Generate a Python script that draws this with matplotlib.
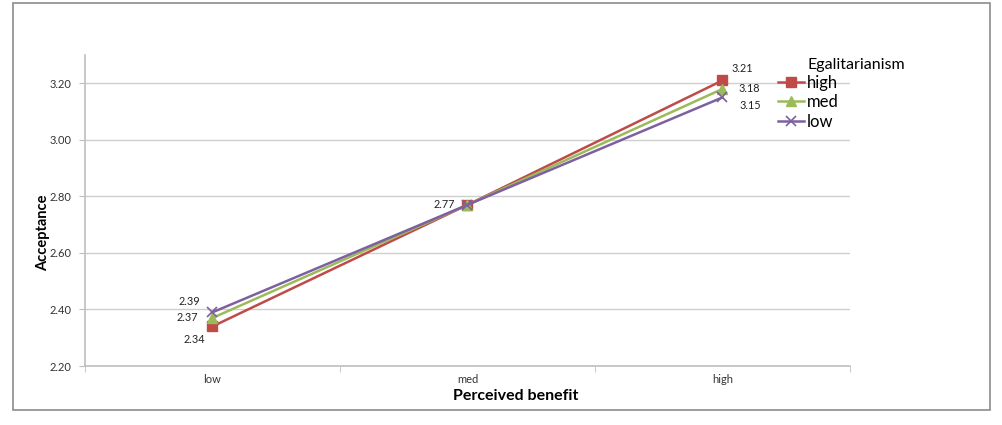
import matplotlib.pyplot as plt
from matplotlib.patches import Rectangle

# data
benefit = ['low', 'med', 'high']
groups = ['high', 'med', 'low']
acc_high = [2.34, 2.77, 3.21]
acc_med = [2.37, 2.77, 3.18]
acc_low = [2.39, 2.77, 3.15]

plt.rcParams['font.family'] = ['Lato', 'DejaVu Sans']

fig = plt.figure(figsize=(10.02, 4.25), dpi=100)
fig.patches.append(Rectangle((0.013, 0.035), 0.975, 0.958, transform=fig.transFigure,
                             fill=False, edgecolor='#8c8c8c', linewidth=1.2))

ax = fig.add_axes([0.0848, 0.1388, 0.7635, 0.7318])

xs = [0.5, 1.5, 2.5]
styles = {
    'high': dict(color='#BE4B48', marker='s', ms=7),
    'med': dict(color='#9BBB59', marker='^', ms=7),
    'low': dict(color='#7D60A0', marker='x', ms=7, mew=1.2),
}
series = {'high': acc_high, 'med': acc_med, 'low': acc_low}
for g in groups:
    ax.plot(xs, series[g], lw=1.8, label=g, **styles[g])

# data labels (offsets in points)
lab_off = {
    'high': [(-13, -9.5), (-17, 0), (14.5, 8.5)],
    'med': [(-18, 0), None, (19, 0)],
    'low': [(-16.5, 8), None, (20, -6)],
}
for g in groups:
    for i, (x, y) in enumerate(zip(xs, series[g])):
        off = lab_off[g][i]
        if off is None:
            continue
        ax.annotate(f'{y:.2f}', (x, y), xytext=off, textcoords='offset points',
                    ha='center', va='center', fontsize=7.8, color='#222222')

ax.set_xlim(0, 3)
ax.set_ylim(2.2, 3.3)
ax.set_yticks([2.2, 2.4, 2.6, 2.8, 3.0, 3.2])
ax.set_yticklabels([f'{v:.2f}' for v in [2.2, 2.4, 2.6, 2.8, 3.0, 3.2]])
ax.set_xticks(xs)
ax.set_xticklabels(benefit)
ax.set_xticks([0, 1, 2, 3], minor=True)
ax.tick_params(axis='x', which='major', length=0, labelsize=8, pad=6, colors='#333333')
ax.tick_params(axis='x', which='minor', length=4, color='#bfbfbf')
ax.tick_params(axis='y', length=4, color='#bfbfbf', labelsize=8, labelcolor='#333333', pad=6)
ax.grid(axis='y', color='#cfcfcf', lw=1)
ax.set_axisbelow(True)
for s in ['top', 'right']:
    ax.spines[s].set_visible(False)
for s in ['left', 'bottom']:
    ax.spines[s].set_color('#bfbfbf')
    ax.spines[s].set_linewidth(1.2)

ax.set_ylabel('Acceptance', fontsize=10.5, fontweight='bold')
ax.yaxis.set_label_coords(-0.046, 0.428)
ax.set_xlabel('Perceived benefit', fontsize=11.5, fontweight='bold')
ax.xaxis.set_label_coords(0.563, -0.075)

fig.text(0.806, 1 - 65 / 425, 'Egalitarianism', fontsize=11.5, va='center', ha='left')
leg = ax.legend(loc='upper left', bbox_to_anchor=(0.776, 1 - 75 / 425),
                bbox_transform=fig.transFigure, frameon=False, fontsize=12,
                handlelength=1.6, handletextpad=0.15,
                labelspacing=0.2, borderaxespad=0, borderpad=0)

fig.savefig('out.png', dpi=100)
